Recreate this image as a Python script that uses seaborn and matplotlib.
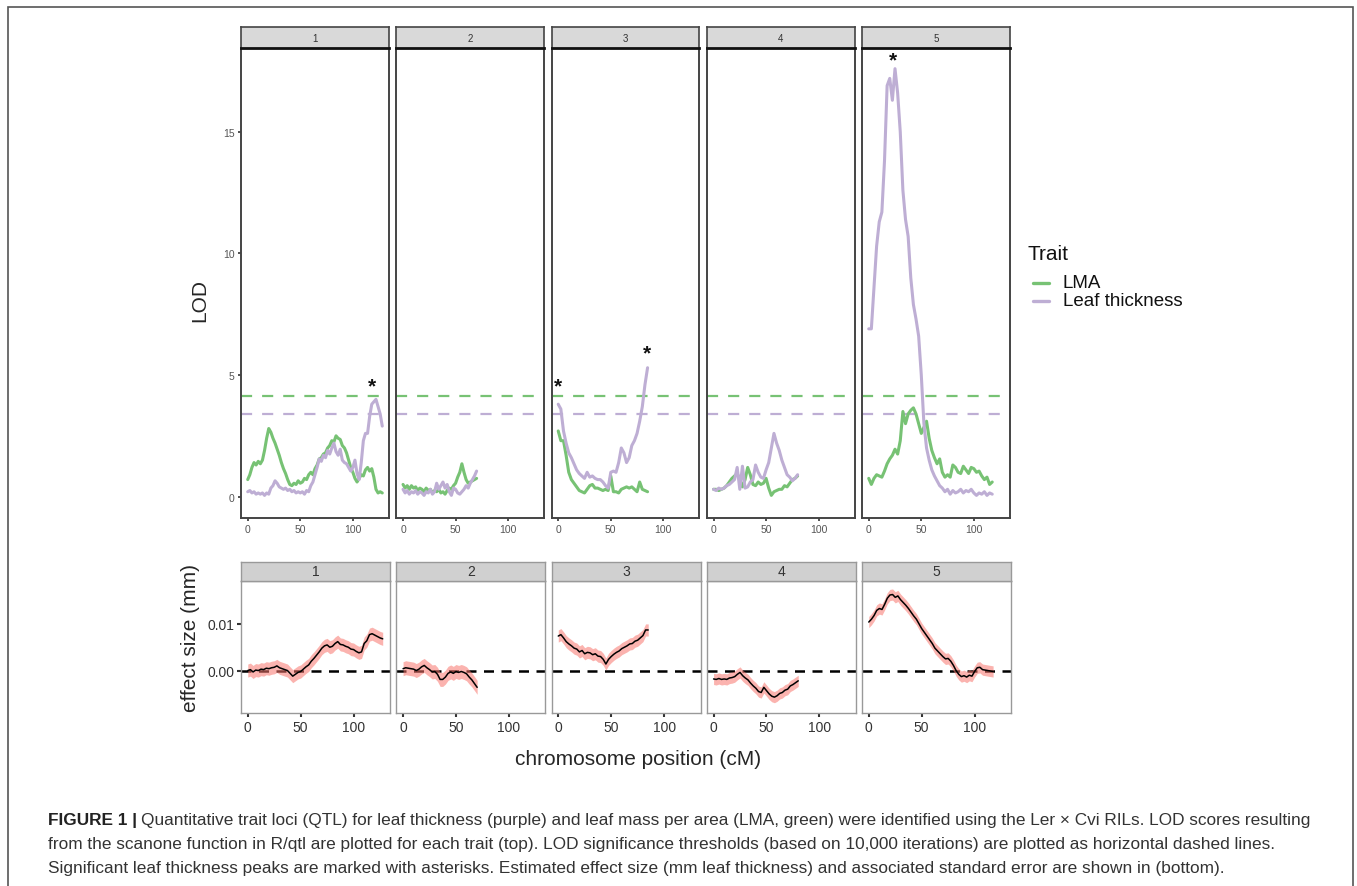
import numpy as np
import pandas as pd
import matplotlib
matplotlib.use("Agg")
import matplotlib.pyplot as plt
from matplotlib.patches import Rectangle
from matplotlib.lines import Line2D
import seaborn as sns

sns.set_style("white")
plt.rcParams['font.family'] = ['Liberation Sans', 'DejaVu Sans']

# ---------------- data ----------------
chromosomes = ["1", "2", "3", "4", "5"]
traits = ["LMA", "Leaf thickness"]
trait_colors = ["#77c274", "#beaed4"]
thresholds = [4.12, 3.41]   # LMA, Leaf thickness

chr1_pos = [0,2,4,6,8,10,12,14,16,18,20,22,24,26,28,30,32,34,36,38,40,42,44,46,48,50,52,54,56,58,60,62,64,
            66,68,70,72,74,76,78,80,82,84,86,88,90,92,94,96,98,100,102,104,106,108,110,112,114,116,118,120,122,124,126,128]
chr1_lma = [0.7,0.9,1.2,1.4,1.3,1.45,1.35,1.5,1.9,2.4,2.8,2.65,2.4,2.2,1.95,1.7,1.4,1.15,0.95,0.7,0.5,0.45,0.55,
            0.5,0.65,0.55,0.6,0.75,0.7,0.9,1.0,0.9,1.15,1.3,1.55,1.6,1.75,1.8,2.0,2.1,2.3,2.25,2.5,2.4,2.35,2.1,2.0,
            1.8,1.5,1.2,1.0,0.75,0.6,0.75,0.9,0.85,1.1,1.2,1.05,1.15,0.8,0.3,0.15,0.2,0.15]
chr1_thick = [0.2,0.25,0.15,0.2,0.1,0.15,0.1,0.15,0.05,0.15,0.1,0.35,0.45,0.65,0.55,0.4,0.35,0.3,0.35,0.25,0.3,
              0.2,0.25,0.15,0.2,0.15,0.2,0.1,0.25,0.2,0.45,0.6,0.9,1.2,1.55,1.45,1.7,1.6,1.9,1.75,2.0,2.2,1.85,1.7,
              1.95,1.5,1.4,1.35,1.2,1.05,1.2,1.5,0.95,0.7,1.4,2.3,2.6,2.6,3.3,3.8,3.9,4.0,3.7,3.4,2.9]

chr2_pos = [0,2,4,6,8,10,12,14,16,18,20,22,24,26,28,30,32,34,36,38,40,42,44,46,48,50,52,54,56,58,60,62,64,66,68,70]
chr2_lma = [0.5,0.35,0.45,0.3,0.45,0.35,0.4,0.25,0.35,0.3,0.2,0.35,0.25,0.3,0.15,0.25,0.2,0.3,0.15,0.2,0.1,0.25,
            0.35,0.3,0.45,0.55,0.8,1.0,1.35,1.0,0.7,0.55,0.6,0.65,0.7,0.75]
chr2_thick = [0.3,0.15,0.25,0.1,0.2,0.15,0.25,0.1,0.2,0.15,0.05,0.2,0.15,0.3,0.1,0.2,0.55,0.3,0.45,0.6,0.35,0.5,
              0.2,0.05,0.35,0.3,0.15,0.1,0.2,0.3,0.45,0.35,0.55,0.7,0.85,1.05]

chr3_pos = [0,2.5,5,7.5,10,12.5,15,17.5,20,22.5,25,27.5,30,32.5,35,37.5,40,42.5,45,47.5,50,52.5,55,57.5,60,
            62.5,65,67.5,70,72.5,75,77.5,80,82.5,85]
chr3_lma = [2.7,2.3,2.3,1.7,1.0,0.7,0.55,0.4,0.25,0.2,0.15,0.3,0.45,0.5,0.35,0.35,0.3,0.25,0.3,0.25,0.85,0.2,
            0.2,0.15,0.3,0.35,0.4,0.35,0.4,0.3,0.2,0.6,0.3,0.25,0.2]
chr3_thick = [3.8,3.6,2.7,2.2,1.8,1.6,1.35,1.1,0.95,0.85,0.75,1.0,0.8,0.85,0.75,0.7,0.7,0.6,0.45,0.35,1.0,1.05,
              1.0,1.4,2.0,1.8,1.4,1.6,2.1,2.3,2.6,3.1,3.7,4.6,5.3]

chr4_pos = [0,2.5,5,7.5,10,12.5,15,17.5,20,22.5,25,27.5,30,32.5,35,37.5,40,42.5,45,47.5,50,52.5,55,57.5,60,
            62.5,65,67.5,70,72.5,75,77.5,80]
chr4_lma = [0.3,0.3,0.25,0.3,0.35,0.45,0.6,0.75,0.85,0.95,0.7,0.4,0.7,1.2,0.9,0.5,0.45,0.6,0.5,0.55,0.75,0.35,
            0.05,0.2,0.25,0.3,0.3,0.45,0.4,0.55,0.7,0.75,0.85]
chr4_thick = [0.3,0.25,0.35,0.3,0.35,0.45,0.5,0.6,0.7,1.2,0.3,1.25,0.35,0.4,0.6,0.7,1.3,1.0,0.8,0.75,1.1,1.4,
              2.0,2.6,2.2,1.9,1.5,1.2,0.9,0.8,0.65,0.75,0.9]

chr5_pos = [0,2.5,5,7.5,10,12.5,15,17.5,20,22.5,25,27.5,30,32.5,35,37.5,40,42.5,45,47.5,50,52.5,55,57.5,60,
            62.5,65,67.5,70,72.5,75,77.5,80,82.5,85,87.5,90,92.5,95,97.5,100,102.5,105,107.5,110,112.5,115,117.5]
chr5_lma = [0.75,0.5,0.75,0.9,0.85,0.8,1.05,1.35,1.55,1.7,1.95,1.75,2.3,3.5,3.0,3.4,3.55,3.65,3.4,3.0,2.6,2.85,
            3.1,2.4,1.9,1.6,1.35,1.55,1.0,0.8,0.9,0.8,1.3,1.2,1.0,0.95,1.25,1.1,0.95,1.2,1.15,1.0,1.05,0.85,0.7,
            0.8,0.5,0.6]
chr5_thick = [6.9,6.9,8.6,10.3,11.3,11.7,13.8,16.9,17.2,16.3,17.6,16.6,15.0,12.6,11.4,10.7,9.0,7.9,7.3,6.6,5.0,
              3.0,2.0,1.5,1.1,0.85,0.65,0.45,0.35,0.2,0.3,0.1,0.25,0.15,0.2,0.3,0.15,0.25,0.2,0.3,0.15,0.05,0.15,
              0.1,0.2,0.05,0.15,0.1]

# effect size (mm) along each chromosome (same positions as above for chr 3-5)
eff1_pos = [0,2.5,5,7.5,10,12.5,15,17.5,20,22.5,25,27.5,30,32.5,35,37.5,40,42.5,45,47.5,50,52.5,55,57.5,60,62.5,
            65,67.5,70,72.5,75,77.5,80,82.5,85,87.5,90,92.5,95,97.5,100,102.5,105,107.5,110,112.5,115,117.5,120,
            122.5,125,127.5]
eff1 = [0.0000,0.0002,-0.0003,0.0001,0.0000,0.0003,0.0002,0.0005,0.0004,0.0006,0.0007,0.0010,0.0006,0.0004,0.0002,
        0.0000,-0.0006,-0.0012,-0.0008,-0.0004,-0.0002,0.0003,0.0008,0.0012,0.0020,0.0026,0.0033,0.0040,0.0048,
        0.0053,0.0055,0.0050,0.0052,0.0058,0.0062,0.0056,0.0055,0.0052,0.0050,0.0046,0.0045,0.0041,0.0038,0.0040,
        0.0058,0.0064,0.0077,0.0079,0.0076,0.0073,0.0070,0.0068]
eff2_pos = [0,2.5,5,7.5,10,12.5,15,17.5,20,22.5,25,27.5,30,32.5,35,37.5,40,42.5,45,47.5,50,52.5,55,57.5,60,62.5,
            65,67.5,70]
eff2 = [0.0004,0.0006,0.0005,0.0004,0.0003,0.0000,0.0003,0.0008,0.0011,0.0006,0.0002,-0.0003,-0.0002,-0.0008,
        -0.0019,-0.0019,-0.0014,-0.0006,-0.0003,-0.0006,-0.0002,-0.0004,-0.0002,-0.0004,-0.0007,-0.0014,-0.0020,
        -0.0028,-0.0036]
eff3 = [0.0074,0.0077,0.0070,0.0062,0.0057,0.0053,0.0048,0.0046,0.0040,0.0043,0.0036,0.0039,0.0038,0.0034,0.0036,
        0.0031,0.0030,0.0024,0.0014,0.0024,0.0030,0.0035,0.0039,0.0042,0.0047,0.0050,0.0053,0.0057,0.0058,0.0063,
        0.0065,0.0070,0.0075,0.0087,0.0087]
eff4 = [-0.0018,-0.0019,-0.0017,-0.0019,-0.0018,-0.0019,-0.0016,-0.0015,-0.0013,-0.0008,-0.0004,-0.0011,-0.0016,
        -0.0020,-0.0027,-0.0033,-0.0038,-0.0045,-0.0047,-0.0036,-0.0043,-0.0050,-0.0055,-0.0057,-0.0054,-0.0049,
        -0.0047,-0.0042,-0.0040,-0.0033,-0.0030,-0.0026,-0.0022]
eff5 = [0.0104,0.0110,0.0118,0.0129,0.0133,0.0131,0.0142,0.0155,0.0162,0.0163,0.0157,0.0160,0.0152,0.0146,0.0140,
        0.0133,0.0125,0.0117,0.0110,0.0100,0.0090,0.0082,0.0074,0.0066,0.0058,0.0048,0.0042,0.0036,0.0030,0.0025,
        0.0026,0.0020,0.0011,0.0000,-0.0008,-0.0013,-0.0011,-0.0014,-0.0010,-0.0012,-0.0002,0.0006,0.0007,0.0002,
        0.0001,0.0000,-0.0001,-0.0002]
eff_se = [0.0014, 0.0015, 0.0013, 0.0012, 0.0012]

# significant peaks (chromosome, position, label height)
peak_chr = ["1", "3", "3", "5"]
peak_pos = [118, 0, 84, 23]
peak_y = [4.55, 4.55, 5.9, 17.95]

# ---------------- layout helpers ----------------
W, H = 1357, 887
fig = plt.figure(figsize=(W / 100, H / 100), dpi=100)

def fbox(x0, y0, x1, y1):
    return [x0 / W, 1 - y1 / H, (x1 - x0) / W, (y1 - y0) / H]

def fpt(x, y):
    return (x / W, 1 - y / H)

lefts = [241, 396.3, 551.5, 706.8, 862]
pw = 148
xlim = (-6.4, 134.4)

lod_pos = [chr1_pos, chr2_pos, chr3_pos, chr4_pos, chr5_pos]
lod_lma = [chr1_lma, chr2_lma, chr3_lma, chr4_lma, chr5_lma]
lod_thick = [chr1_thick, chr2_thick, chr3_thick, chr4_thick, chr5_thick]
eff_pos = [eff1_pos, eff2_pos, chr3_pos, chr4_pos, chr5_pos]
eff_val = [eff1, eff2, eff3, eff4, eff5]

rows = []
for c, p, a, b in zip(chromosomes, lod_pos, lod_lma, lod_thick):
    for pp, v in zip(p, a):
        rows.append((c, pp, v, "LMA"))
    for pp, v in zip(p, b):
        rows.append((c, pp, v, "Leaf thickness"))
lod_df = pd.DataFrame(rows, columns=["chr", "pos", "lod", "trait"])

erows = []
for c, p, e, s in zip(chromosomes, eff_pos, eff_val, eff_se):
    for pp, v in zip(p, e):
        erows.append((c, pp, v, v - s, v + s))
eff_df = pd.DataFrame(erows, columns=["chr", "pos", "eff", "lo", "hi"])

palette = dict(zip(traits, trait_colors))

# ---------------- top: LOD ----------------
for i, c in enumerate(chromosomes):
    x0 = lefts[i]
    ax = fig.add_axes(fbox(x0, 49, x0 + pw, 519))
    sub = lod_df[lod_df.chr == c]
    for t, thr in zip(traits, thresholds):
        ax.axhline(thr, color=palette[t], lw=1.6, ls=(0, (5, 4.5)), zorder=1)
    sns.lineplot(data=sub, x="pos", y="lod", hue="trait", hue_order=traits, palette=palette,
                 estimator=None, sort=False, lw=2.2, legend=False, ax=ax, zorder=3)
    for pc, pp, py in zip(peak_chr, peak_pos, peak_y):
        if pc == c:
            ax.text(pp, py, "*", ha="center", va="center", fontsize=15, fontweight="bold", color="#111111")
    ax.set_xlim(*xlim)
    ax.set_ylim(-0.88, 18.45)
    ax.set_xticks([0, 50, 100])
    ax.set_xticklabels(["0", "50", "100"])
    ax.set_yticks([0, 5, 10, 15])
    if i == 0:
        ax.set_yticklabels(["0", "5", "10", "15"])
    else:
        ax.set_yticklabels([])
        ax.tick_params(axis="y", length=0)
    ax.tick_params(axis="both", labelsize=7.5, labelcolor="#555555", length=2.5, width=1.2,
                   color="#333333", pad=2, direction="out", bottom=True, left=(i == 0))
    ax.set_xlabel("")
    ax.set_ylabel("")
    for s in ax.spines.values():
        s.set_color("#444444")
        s.set_linewidth(1.4)
    # strip
    sax = fig.add_axes(fbox(x0, 28, x0 + pw, 49))
    sax.set_facecolor("#d9d9d9")
    sax.set_xticks([]); sax.set_yticks([])
    for s in sax.spines.values():
        s.set_color("#444444"); s.set_linewidth(1.2)
    sax.spines["bottom"].set_color("#111111"); sax.spines["bottom"].set_linewidth(2)
    sax.text(0.5, 0.5, c, ha="center", va="center", fontsize=7, color="#333333", transform=sax.transAxes)

fig.text(*fpt(200, 300), "LOD", rotation=90, ha="center", va="center", fontsize=15)

# legend (manual, ggplot style)
fig.text(*fpt(1028, 255), "Trait", ha="left", va="center", fontsize=15, color="#111111")
for t, col, yy in zip(traits, trait_colors, [284, 302]):
    fig.add_artist(Line2D([1033 / W, 1049 / W], [1 - yy / H, 1 - yy / H], color=col, lw=2.4,
                          transform=fig.transFigure))
    fig.text(*fpt(1063, yy), t, ha="left", va="center", fontsize=13.5, color="#111111")

# ---------------- bottom: effect size ----------------
for i, c in enumerate(chromosomes):
    x0 = lefts[i]
    ax = fig.add_axes(fbox(x0, 582, x0 + pw + 1, 714))
    sub = eff_df[eff_df.chr == c]
    ax.fill_between(sub.pos, sub.lo, sub.hi, color="#F8766D", alpha=0.55, lw=0, zorder=2)
    ax.axhline(0, color="black", lw=1.8, ls=(0, (4, 3)), zorder=1)
    sns.lineplot(data=sub, x="pos", y="eff", color="black", lw=1.1, estimator=None, sort=False,
                 ax=ax, zorder=3)
    ax.set_xlim(*xlim)
    ax.set_ylim(-0.0091, 0.0192)
    ax.set_xticks([0, 50, 100])
    ax.set_xticklabels(["0", "50", "100"])
    ax.set_yticks([0.0, 0.01])
    if i == 0:
        ax.set_yticklabels(["0.00", "0.01"])
    else:
        ax.set_yticklabels([])
    ax.tick_params(axis="both", labelsize=10, labelcolor="#333333", length=3, width=1.5,
                   color="#333333", pad=2, direction="out", bottom=True, left=(i == 0))
    ax.set_xlabel("")
    ax.set_ylabel("")
    for s in ax.spines.values():
        s.set_color("#999999")
        s.set_linewidth(1.0)
    sax = fig.add_axes(fbox(x0, 563, x0 + pw + 1, 582))
    sax.set_facecolor("#d0d0d0")
    sax.set_xticks([]); sax.set_yticks([])
    for s in sax.spines.values():
        s.set_color("#999999"); s.set_linewidth(1.0)
    sax.text(0.5, 0.5, c, ha="center", va="center", fontsize=10, color="#333333", transform=sax.transAxes)

fig.text(*fpt(191, 638), "effect size (mm)", rotation=90, ha="center", va="center", fontsize=15)
fig.text(*fpt(638, 760), "chromosome position (cM)", ha="center", va="center", fontsize=15)

# ---------------- frame and caption ----------------
fig.patches.append(Rectangle((8 / W, -0.05), (1353 - 8) / W, 1 - 8 / H + 0.05, transform=fig.transFigure,
                             fill=False, edgecolor="#555555", lw=1.2))

cap_lines = [
    "Quantitative trait loci (QTL) for leaf thickness (purple) and leaf mass per area (LMA, green) were identified using the Ler \u00d7 Cvi RILs. LOD scores resulting",
    "from the scanone function in R/qtl are plotted for each trait (top). LOD significance thresholds (based on 10,000 iterations) are plotted as horizontal dashed lines.",
    "Significant leaf thickness peaks are marked with asterisks. Estimated effect size (mm leaf thickness) and associated standard error are shown in (bottom).",
]
cap_fs = 12.4
fig.canvas.draw()
r = fig.canvas.get_renderer()
bold = fig.text(*fpt(48, 820), "FIGURE 1 |", fontsize=cap_fs, fontweight="bold", ha="left",
                va="center", color="#222222")
bb = bold.get_window_extent(renderer=r)
fig.text((bb.x1 + 4) / W, 1 - 820 / H, cap_lines[0], fontsize=cap_fs, ha="left", va="center", color="#333333")
fig.text(*fpt(48, 845), cap_lines[1], fontsize=cap_fs, ha="left", va="center", color="#333333")
fig.text(*fpt(48, 869), cap_lines[2], fontsize=cap_fs, ha="left", va="center", color="#333333")

fig.savefig("out.png", dpi=100)
